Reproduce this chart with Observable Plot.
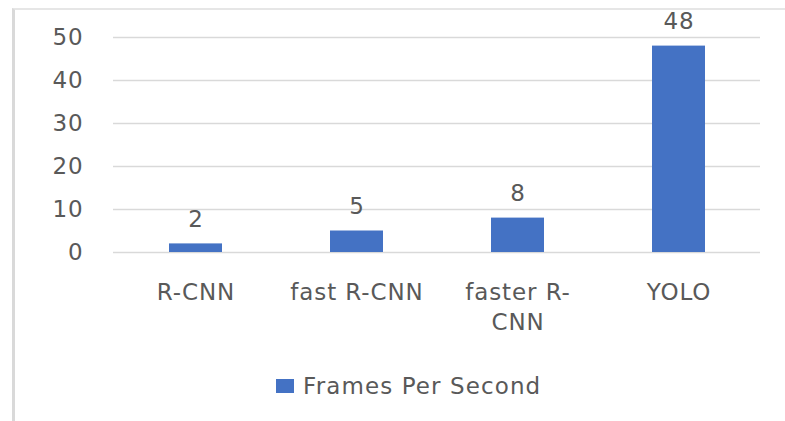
<!DOCTYPE html>
<html><head><meta charset="utf-8">
<script src="https://cdn.jsdelivr.net/npm/d3@7"></script>
<script src="https://cdn.jsdelivr.net/npm/@observablehq/plot@0.6"></script>
<style>
body{margin:0;background:#fff;}
#wrap{position:relative;width:785px;height:421px;overflow:hidden;font-family:"DejaVu Sans",sans-serif;color:#595959;background:#fff;}
#frame{position:absolute;left:12px;top:8px;width:800px;height:440px;border-left:3px solid #d9d9d9;border-top:2px solid #e6e6e6;}
#chart{position:absolute;left:0;top:0;}
#legend{position:absolute;left:276px;top:372px;height:28px;display:flex;align-items:center;font-size:23px;letter-spacing:1.1px;}
#legend .sw{display:inline-block;width:18px;height:14px;background:#4472C4;margin-right:9px;}
</style></head><body>
<div id="wrap"><div id="frame"></div><div id="chart"></div><div id="legend"><span class="sw"></span><span id="ltext"></span></div></div>
<script>
const categories = ["R-CNN", "fast R-CNN", "faster R-CNN", "YOLO"];
const categoryLabels = ["R-CNN", "fast R-CNN", "faster R-\nCNN", "YOLO"];
const fps = [2, 5, 8, 48];
const yTicks = [0, 10, 20, 30, 40, 50];
const seriesName = "Frames Per Second";

const data = categories.map((c, i) => ({category: c, value: fps[i]}));
const labelOf = new Map(categories.map((c, i) => [c, categoryLabels[i]]));

const chart = Plot.plot({
  width: 785, height: 360,
  marginLeft: 113, marginRight: 25, marginTop: 37, marginBottom: 108,
  style: {fontFamily: "'DejaVu Sans', sans-serif", fontSize: "23px", color: "#595959", background: "transparent", letterSpacing: "0.9px"},
  x: {domain: categories, padding: 0, axis: null},
  y: {domain: [0, 50], axis: null},
  marks: [
    Plot.gridY(yTicks, {stroke: "#d9d9d9", strokeOpacity: 1, strokeWidth: 1.5}),
    Plot.axisY(yTicks, {tickSize: 0, tickPadding: 30, tickFormat: d => String(d), fill: "#595959", label: null}),
    Plot.barY(data, {x: "category", y: "value", fill: "#4472C4", insetLeft: 54, insetRight: 54}),
    Plot.text(data, {x: "category", y: "value", text: d => String(d.value), dy: -24, fill: "#595959"}),
    Plot.axisX({tickSize: 0, tickPadding: 26, tickFormat: d => labelOf.get(d), lineHeight: 1.3, fill: "#595959", label: null})
  ]
});
document.getElementById("chart").appendChild(chart);
document.getElementById("ltext").textContent = seriesName;
</script>
</body></html>
